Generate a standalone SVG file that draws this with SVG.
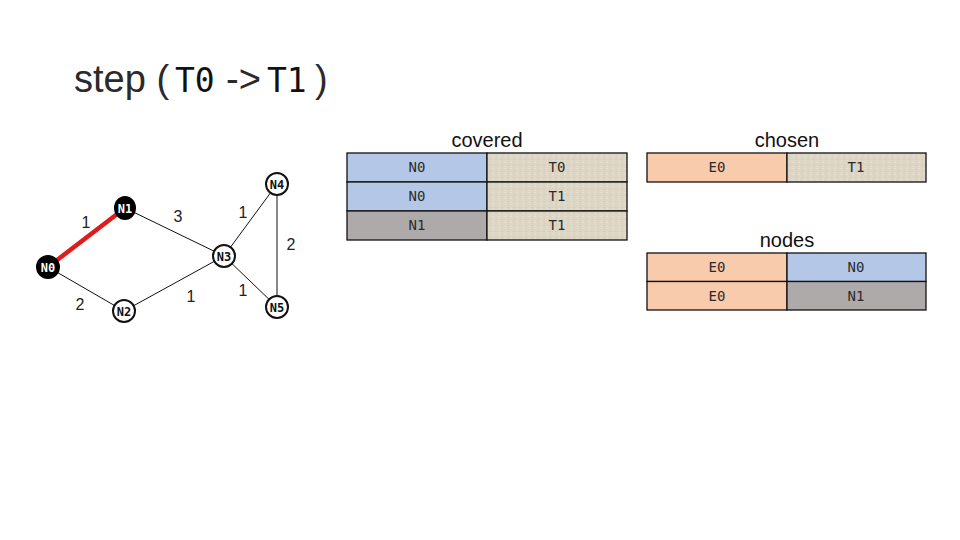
<svg xmlns="http://www.w3.org/2000/svg" width="960" height="540" viewBox="0 0 960 540">
<defs>
<style>
.title{font-family:"Liberation Sans",Arial,sans-serif;font-size:38px;fill:#2a2a2a;font-weight:300}
.tmono{font-family:"DejaVu Sans Mono","Liberation Mono",monospace;font-size:33px;fill:#111}
.hd{font-family:"Liberation Sans",Arial,sans-serif;font-size:20px;fill:#111;text-anchor:middle}
.cell{stroke:#111;stroke-width:1.3}
.ct{font-family:"DejaVu Sans Mono","Liberation Mono",monospace;font-size:14px;fill:#2a2a2a;text-anchor:middle}
.blue{fill:#b4c7e7}.grey{fill:#aeaaaa}.orange{fill:#f8cbad}.tex{fill:url(#canvas)}
.edge{stroke:#111;stroke-width:1;fill:none}
.sel{stroke:#e01b1b;stroke-width:4.5;fill:none}
.wl{font-family:"Liberation Sans",Arial,sans-serif;font-size:16px;fill:#222;text-anchor:middle}
.nw{fill:#fff;stroke:#111;stroke-width:2}
.nb{fill:#000;stroke:#000;stroke-width:2}
.nt{font-family:"DejaVu Sans Mono","Liberation Mono",monospace;font-size:12px;font-weight:bold;text-anchor:middle}
</style>
<pattern id="canvas" width="6" height="6" patternUnits="userSpaceOnUse">
<rect width="6" height="6" fill="#ddd6c5"/>
<rect x="0" y="0" width="2" height="1" fill="#e6e0d2"/>
<rect x="3" y="3" width="2" height="1" fill="#d4ccba"/>
<rect x="1" y="4" width="1" height="1" fill="#e8e3d6"/>
<rect x="4" y="1" width="1" height="1" fill="#d7cfbd"/>
</pattern>
</defs>
<rect width="960" height="540" fill="#fff"/>
<text class="title" y="92"><tspan x="74">step (</tspan><tspan class="tmono" x="175">T0</tspan><tspan x="226">-&gt;</tspan><tspan class="tmono" x="267">T1</tspan><tspan x="315">)</tspan></text>

<g id="connectors">
<line class="sel" x1="48" y1="267" x2="125" y2="208"/>
<line class="edge" x1="125" y1="208" x2="224" y2="256"/>
<line class="edge" x1="48" y1="267" x2="124" y2="311"/>
<line class="edge" x1="124" y1="311" x2="224" y2="256"/>
<line class="edge" x1="224" y1="256" x2="277" y2="184"/>
<line class="edge" x1="224" y1="256" x2="277" y2="307"/>
<line class="edge" x1="277" y1="184" x2="277" y2="307"/>
<text class="wl" x="86" y="228">1</text>
<text class="wl" x="178" y="222">3</text>
<text class="wl" x="243" y="218">1</text>
<text class="wl" x="291" y="250">2</text>
<text class="wl" x="80" y="310">2</text>
<text class="wl" x="191" y="302">1</text>
<text class="wl" x="243" y="296">1</text>
</g>

<g id="N0"><ellipse class="nb" cx="48" cy="267" rx="11" ry="11"/><text class="nt" x="48" y="271.5" fill="#fff">N0</text></g>
<g id="N1"><ellipse class="nb" cx="125" cy="208" rx="10" ry="11"/><text class="nt" x="125" y="212.5" fill="#fff">N1</text></g>
<g id="N2"><ellipse class="nw" cx="124" cy="311" rx="11" ry="11"/><text class="nt" x="124" y="315.5" fill="#111">N2</text></g>
<g id="N3"><ellipse class="nw" cx="224" cy="256" rx="11" ry="11"/><text class="nt" x="224" y="260.5" fill="#111">N3</text></g>
<g id="N4"><ellipse class="nw" cx="277" cy="184" rx="11" ry="11"/><text class="nt" x="277" y="188.5" fill="#111">N4</text></g>
<g id="N5"><ellipse class="nw" cx="277" cy="307" rx="11" ry="11"/><text class="nt" x="277" y="311.5" fill="#111">N5</text></g>

<g id="covered">
<text class="hd" x="487" y="147">covered</text>
<rect class="cell blue" x="347" y="153" width="140" height="29"/>
<rect class="cell tex" x="487" y="153" width="140" height="29"/>
<rect class="cell blue" x="347" y="182" width="140" height="29"/>
<rect class="cell tex" x="487" y="182" width="140" height="29"/>
<rect class="cell grey" x="347" y="211" width="140" height="29"/>
<rect class="cell tex" x="487" y="211" width="140" height="29"/>
<text class="ct" x="417" y="172">N0</text><text class="ct" x="557" y="172">T0</text>
<text class="ct" x="417" y="201">N0</text><text class="ct" x="557" y="201">T1</text>
<text class="ct" x="417" y="230">N1</text><text class="ct" x="557" y="230">T1</text>
</g>

<g id="chosen">
<text class="hd" x="787" y="147">chosen</text>
<rect class="cell orange" x="647" y="153" width="140" height="29"/>
<rect class="cell tex" x="787" y="153" width="139" height="29"/>
<text class="ct" x="717" y="172">E0</text><text class="ct" x="856" y="172">T1</text>
</g>

<g id="nodes">
<text class="hd" x="787" y="247">nodes</text>
<rect class="cell orange" x="647" y="253" width="140" height="28.5"/>
<rect class="cell blue" x="787" y="253" width="139" height="28.5"/>
<rect class="cell orange" x="647" y="281.5" width="140" height="28.5"/>
<rect class="cell grey" x="787" y="281.5" width="139" height="28.5"/>
<text class="ct" x="717" y="272">E0</text><text class="ct" x="856" y="272">N0</text>
<text class="ct" x="717" y="300.5">E0</text><text class="ct" x="856" y="300.5">N1</text>
</g>
</svg>
